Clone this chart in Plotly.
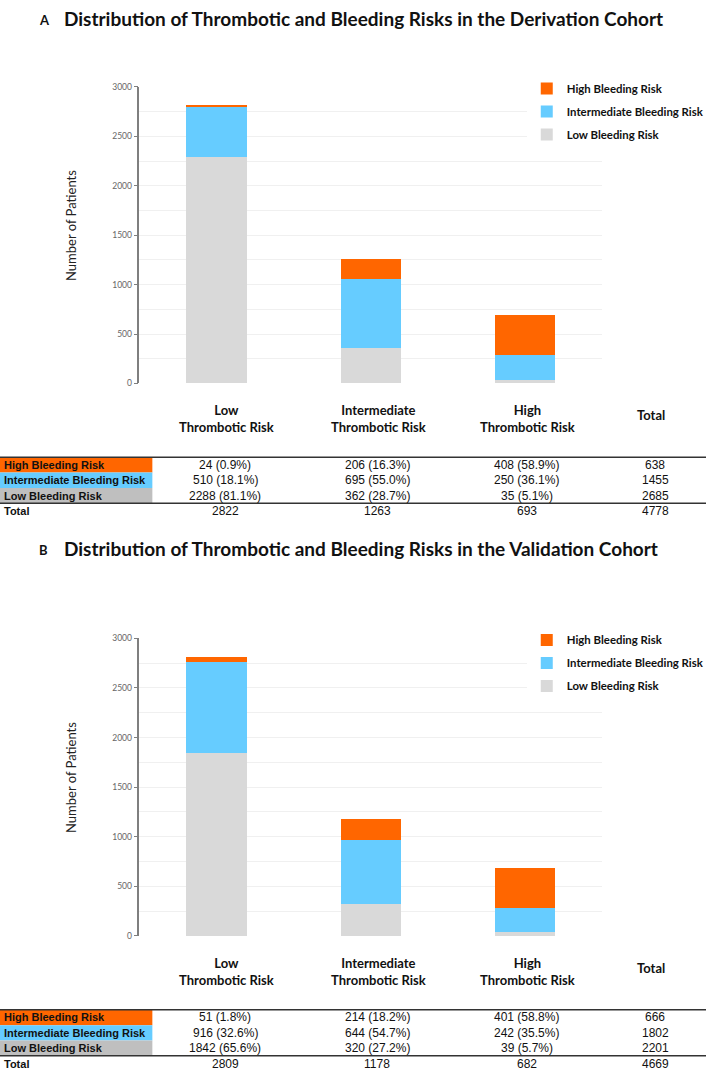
import plotly.graph_objects as go

W, H = 709, 1078

# ---------------- data ----------------
categories = ["Low<br>Thrombotic Risk", "Intermediate<br>Thrombotic Risk", "High<br>Thrombotic Risk"]
total_header = "Total"
bleeding_levels = ["High Bleeding Risk", "Intermediate Bleeding Risk", "Low Bleeding Risk"]

# Panel A - derivation cohort
deriv_low = [2288, 362, 35]
deriv_intermediate = [510, 695, 250]
deriv_high = [24, 206, 408]
deriv_high_pct = ["0.9%", "16.3%", "58.9%"]
deriv_intermediate_pct = ["18.1%", "55.0%", "36.1%"]
deriv_low_pct = ["81.1%", "28.7%", "5.1%"]
deriv_row_totals = [638, 1455, 2685]      # high, intermediate, low
deriv_col_totals = [2822, 1263, 693]
deriv_grand_total = 4778

# Panel B - validation cohort
valid_low = [1842, 320, 39]
valid_intermediate = [916, 644, 242]
valid_high = [51, 214, 401]
valid_high_pct = ["1.8%", "18.2%", "58.8%"]
valid_intermediate_pct = ["32.6%", "54.7%", "35.5%"]
valid_low_pct = ["65.6%", "27.2%", "5.7%"]
valid_row_totals = [666, 1802, 2201]
valid_col_totals = [2809, 1178, 682]
valid_grand_total = 4669

titles = ["Distribution of Thrombotic and Bleeding Risks in the Derivation Cohort",
          "Distribution of Thrombotic and Bleeding Risks in the Validation Cohort"]
panel_letters = ["A", "B"]

# ---------------- styling ----------------
C_HIGH = "#FF6600"
C_INT = "#66CCFF"
C_LOW = "#D9D9D9"
C_LOW_CELL = "#BFBFBF"
TITLE_FONT = "Lato"
NUM_FONT = "Liberation Sans, Arial"
LABEL_FONT = "Liberation Sans Narrow, Arial Narrow, Liberation Sans, Arial"


def px(x):
    return x / W


def py(y):
    return 1 - y / H


# pixel geometry of each panel: title centre, plot top (3000), plot bottom (0)
panels = [
    dict(title_y=14, top=82.7, bottom=382.0, xa="x", ya="y", legend="legend"),
    dict(title_y=549, top=639.3, bottom=939.7, xa="x2", ya="y2", legend="legend2"),
]
PLOT_LEFT, PLOT_RIGHT = 140, 605
col_x = [226, 379, 529, 658]
header_x = [227, 380, 530, 654]

datasets = [
    dict(low=deriv_low, inter=deriv_intermediate, high=deriv_high,
         pct=[deriv_high_pct, deriv_intermediate_pct, deriv_low_pct],
         counts=[deriv_high, deriv_intermediate, deriv_low],
         rows=deriv_row_totals, cols=deriv_col_totals, grand=deriv_grand_total),
    dict(low=valid_low, inter=valid_intermediate, high=valid_high,
         pct=[valid_high_pct, valid_intermediate_pct, valid_low_pct],
         counts=[valid_high, valid_intermediate, valid_low],
         rows=valid_row_totals, cols=valid_col_totals, grand=valid_grand_total),
]

fig = go.Figure()
annotations = []
shapes = []
xpos = list(range(len(categories)))


def note(text, x, y, size, family, anchor="center", color="#111", angle=0):
    annotations.append(dict(text=text, x=px(x), y=py(y), xref="paper", yref="paper",
                            xanchor=anchor, yanchor="middle", showarrow=False, textangle=angle,
                            font=dict(family=family, size=size, color=color)))


for i, (p, d) in enumerate(zip(panels, datasets)):
    grp = f"p{i}"
    for rank, name, vals, col in [(3, "Low Bleeding Risk", d["low"], C_LOW),
                                  (2, "Intermediate Bleeding Risk", d["inter"], C_INT),
                                  (1, "High Bleeding Risk", d["high"], C_HIGH)]:
        fig.add_trace(go.Bar(
            x=xpos, y=vals, name=name, marker=dict(color=col, line=dict(width=0)),
            width=0.39, xaxis=p["xa"], yaxis=p["ya"], legend=p["legend"],
            legendgroup=grp + name, legendrank=rank,
        ))

    # titles
    note("<b>" + panel_letters[i] + "</b>", 37, p["title_y"] + 1, 13, TITLE_FONT, anchor="left")
    note("<b>" + titles[i] + "</b>", 62, p["title_y"], 19, TITLE_FONT, anchor="left")
    # y-axis title
    note("Number of Patients", 72, (p["top"] + p["bottom"]) / 2 - 10, 13, TITLE_FONT,
         color="#222", angle=-90)
    b = p["bottom"]
    # column headers
    for j, cat in enumerate(categories):
        note("<b>" + cat + "</b>", header_x[j], b + 35.5, 13, TITLE_FONT)
    note("<b>" + total_header + "</b>", header_x[3], b + 32, 13, TITLE_FONT)

    # table
    top_line = b + 74.5
    row_h = 15.5
    cell_colors = [C_HIGH, C_INT, C_LOW_CELL]
    for r in range(3):
        y0 = top_line + r * row_h
        shapes.append(dict(type="rect", xref="paper", yref="paper", x0=0, x1=px(153),
                           y0=py(y0 + row_h), y1=py(y0), fillcolor=cell_colors[r],
                           line=dict(width=0), layer="below"))
        yc = y0 + row_h / 2
        note("<b>" + bleeding_levels[r] + "</b>", 2, yc, 11, LABEL_FONT, anchor="left")
        for j in range(3):
            note(f"{d['counts'][r][j]} ({d['pct'][r][j]})", col_x[j], yc, 12, NUM_FONT)
        note(str(d["rows"][r]), col_x[3], yc, 12, NUM_FONT)
    mid_line = top_line + 3 * row_h
    total_y = mid_line + 8
    note("<b>Total</b>", 2, total_y, 11, LABEL_FONT, anchor="left")
    for j in range(3):
        note(str(d["cols"][j]), col_x[j], total_y, 12, NUM_FONT)
    note(str(d["grand"]), col_x[3], total_y, 12, NUM_FONT)
    for yy in (top_line, mid_line):
        shapes.append(dict(type="line", xref="paper", yref="paper", x0=0, x1=1,
                           y0=py(yy), y1=py(yy), line=dict(color="#333", width=1.5)))

yaxis_style = dict(range=[0, 3000], dtick=500, showline=True, linecolor="#7F7F7F", linewidth=1.5,
                   ticks="outside", ticklen=4, tickcolor="#7F7F7F", tickwidth=1,
                   tickfont=dict(family=TITLE_FONT, size=8.5, color="#666"),
                   showgrid=True, gridcolor="#F0F0F0", gridwidth=1, zeroline=False,
                   minor=dict(dtick=250, showgrid=True, gridcolor="#F0F0F0", gridwidth=1, ticks=""),
                   fixedrange=True)
xaxis_style = dict(range=[-0.5, 2.5], showticklabels=False, showgrid=False, zeroline=False,
                   showline=False, ticks="", domain=[px(PLOT_LEFT), px(PLOT_RIGHT)], fixedrange=True)

legend_style = dict(xanchor="left", yanchor="top", bgcolor="white", traceorder="grouped",
                    tracegroupgap=4, font=dict(family=TITLE_FONT, size=11.4, color="#111", weight="bold"),
                    itemclick=False, itemdoubleclick=False)

fig.update_layout(
    width=W, height=H, margin=dict(l=0, r=0, t=0, b=0),
    paper_bgcolor="white", plot_bgcolor="white",
    barmode="stack", showlegend=True,
    xaxis=dict(**xaxis_style, anchor="y"),
    xaxis2=dict(**xaxis_style, anchor="y2"),
    yaxis=dict(**yaxis_style, anchor="x", domain=[py(panels[0]["bottom"]), py(panels[0]["top"])]),
    yaxis2=dict(**yaxis_style, anchor="x2", domain=[py(panels[1]["bottom"]), py(panels[1]["top"])]),
    legend=dict(**legend_style, x=px(529), y=py(panels[0]["top"] - 13)),
    legend2=dict(**legend_style, x=px(529), y=py(panels[1]["top"] - 13)),
    annotations=annotations, shapes=shapes,
)

fig.write_html("out.html", config={"displayModeBar": False},
               post_script="document.body.style.margin='0';document.body.style.padding='0';")
